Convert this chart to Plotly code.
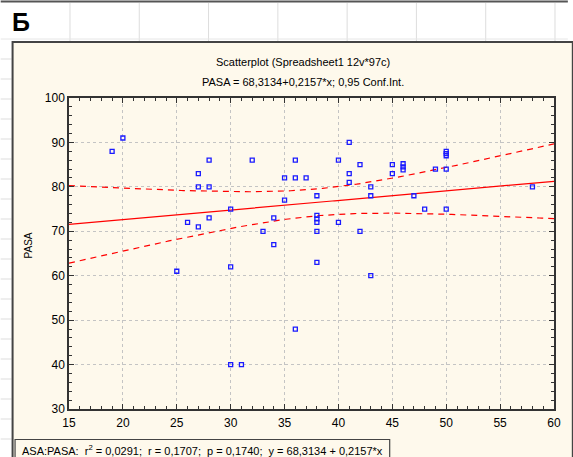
import numpy as np
import plotly.graph_objects as go

# ASA (x) vs PASA (y) observations
asa = [19, 20, 25, 26, 27, 27, 27, 28, 28, 28, 30, 30, 30, 31, 32, 33, 34, 34,
       35, 35, 36, 36, 36, 37, 38, 38, 38, 38, 38, 38, 40, 40, 41, 41, 41, 42,
       42, 43, 43, 43, 45, 45, 46, 46, 46, 47, 48, 49, 50, 50, 50, 50, 50, 58]
pasa = [88, 91, 61, 72, 83, 80, 71, 86, 80, 73, 75, 62, 40, 40, 86, 70, 73, 67,
        82, 77, 86, 82, 48, 82, 78, 73.6, 72.8, 72, 70, 63, 86, 72, 90, 83, 81, 85,
        70, 80, 78, 60, 85, 83, 85.2, 84.5, 83.8, 78, 75, 84, 88, 87.5, 87, 84, 75, 80]

# Reported regression statistics
intercept = 68.3134
slope = 0.2157
stats_text = ("ASA:PASA:  r<sup>2</sup> = 0,0291;  r = 0,1707;  p = 0,1740;  "
              "y = 68,3134 + 0,2157*x")
title_text = "Scatterplot (Spreadsheet1 12v*97c)"
subtitle_text = "PASA = 68,3134+0,2157*x; 0,95 Conf.Int."
x_ticks = [15, 20, 25, 30, 35, 40, 45, 50, 55, 60]
y_ticks = [30, 40, 50, 60, 70, 80, 90, 100]
T_CRIT = 2.0066  # two-sided 95 %, df = 52

W, H = 573, 457
L, R, T, B = 69, 559, 98, 409  # plot area in pixels


def px(xp):
    return (xp - L) / (R - L)


def py(yp):
    return (B - yp) / (B - T)


x = np.array(asa, dtype=float)
y = np.array(pasa, dtype=float)
n = len(x)
xbar = x.mean()
sxx = ((x - xbar) ** 2).sum()
resid = y - (intercept + slope * x)
s = np.sqrt((resid ** 2).sum() / (n - 2))

xs = np.linspace(x_ticks[0], x_ticks[-1], 200)
fit = intercept + slope * xs
half = T_CRIT * s * np.sqrt(1.0 / n + (xs - xbar) ** 2 / sxx)

RED = "#ff0000"
fig = go.Figure()
fig.add_trace(go.Scatter(x=xs, y=fit, mode="lines",
                         line=dict(color=RED, width=1.2), hoverinfo="skip"))
fig.add_trace(go.Scatter(x=xs, y=fit + half, mode="lines",
                         line=dict(color=RED, width=1.2, dash="6px,5px"), hoverinfo="skip"))
fig.add_trace(go.Scatter(x=xs, y=fit - half, mode="lines",
                         line=dict(color=RED, width=1.2, dash="6px,5px"), hoverinfo="skip"))
fig.add_trace(go.Scatter(x=asa, y=pasa, mode="markers",
                         marker=dict(symbol="square-open", size=4,
                                     color="#1a1aff", line=dict(width=1.3, color="#1a1aff"))))

CREAM = "#fef9ec"
shapes = []
# spreadsheet row/column rules around the panel
shapes.append(dict(type="line", xref="paper", yref="paper",
                   x0=px(0), x1=px(W), y0=py(1.5), y1=py(1.5),
                   line=dict(color="#555555", width=2), layer="below"))
for cx in range(70, W, 70):
    shapes.append(dict(type="line", xref="paper", yref="paper",
                       x0=px(cx), x1=px(cx), y0=py(3), y1=py(42),
                       line=dict(color="#dddddd", width=1), layer="below"))
for ry in range(59, H, 20):
    shapes.append(dict(type="line", xref="paper", yref="paper",
                       x0=px(0), x1=px(11), y0=py(ry), y1=py(ry),
                       line=dict(color="#dddddd", width=1), layer="below"))
shapes.append(dict(type="line", xref="paper", yref="paper",
                   x0=px(0), x1=px(W), y0=py(39), y1=py(39),
                   line=dict(color="#e6e6e6", width=1), layer="below"))
# graph panel
shapes.append(dict(type="rect", xref="paper", yref="paper",
                   x0=px(12), x1=px(W + 5), y0=py(42), y1=py(H + 5),
                   fillcolor=CREAM, line=dict(color="#444444", width=2), layer="below"))
# statistics box
shapes.append(dict(type="rect", xref="paper", yref="paper",
                   x0=px(14.5), x1=px(393), y0=py(439.5), y1=py(H + 5),
                   fillcolor=CREAM, line=dict(color="#444444", width=1.2), layer="below"))

font = "Liberation Sans, Arial, sans-serif"
annotations = [
    dict(text="<b>Б</b>", x=px(9), y=py(22), xref="paper", yref="paper",
         xanchor="left", yanchor="middle", showarrow=False,
         font=dict(family=font, size=25, color="#000000")),
    dict(text=title_text, x=px(305), y=py(62), xref="paper", yref="paper",
         xanchor="center", yanchor="middle", showarrow=False,
         font=dict(family=font, size=11, color="#000000")),
    dict(text=subtitle_text, x=px(305), y=py(82), xref="paper", yref="paper",
         xanchor="center", yanchor="middle", showarrow=False,
         font=dict(family=font, size=11, color="#000000")),
    dict(text="PASA", x=px(28), y=py(245), xref="paper", yref="paper",
         xanchor="center", yanchor="middle", showarrow=False, textangle=-90,
         font=dict(family=font, size=10, color="#000000")),
    dict(text=stats_text, x=px(19), y=py(450), xref="paper", yref="paper",
         xanchor="left", yanchor="middle", showarrow=False,
         font=dict(family=font, size=11, color="#000000")),
]

axis_common = dict(
    showline=True, linecolor="#333333", linewidth=1.5, mirror="allticks",
    ticks="inside", ticklen=5, tickcolor="#333333", tickwidth=1,
    showgrid=True, gridcolor="#c4c4c4", gridwidth=1, griddash="dot",
    zeroline=False, tickfont=dict(family=font, size=12, color="#000000"),
)

fig.update_layout(
    width=W, height=H,
    margin=dict(l=L, r=W - R, t=T, b=H - B),
    paper_bgcolor="#ffffff", plot_bgcolor="#ffffff",
    showlegend=False,
    shapes=shapes, annotations=annotations,
    xaxis=dict(range=[15, 60], tickvals=x_ticks, ticklabelstandoff=2,
               minor=dict(ticks="inside", dtick=1, tick0=15, ticklen=3,
                          tickcolor="#333333", showgrid=False),
               **axis_common),
    yaxis=dict(range=[30, 100], tickvals=y_ticks,
               minor=dict(ticks="inside", dtick=2, tick0=30, ticklen=3,
                          tickcolor="#333333", showgrid=False),
               **axis_common),
)

fig.write_html("out.html")
